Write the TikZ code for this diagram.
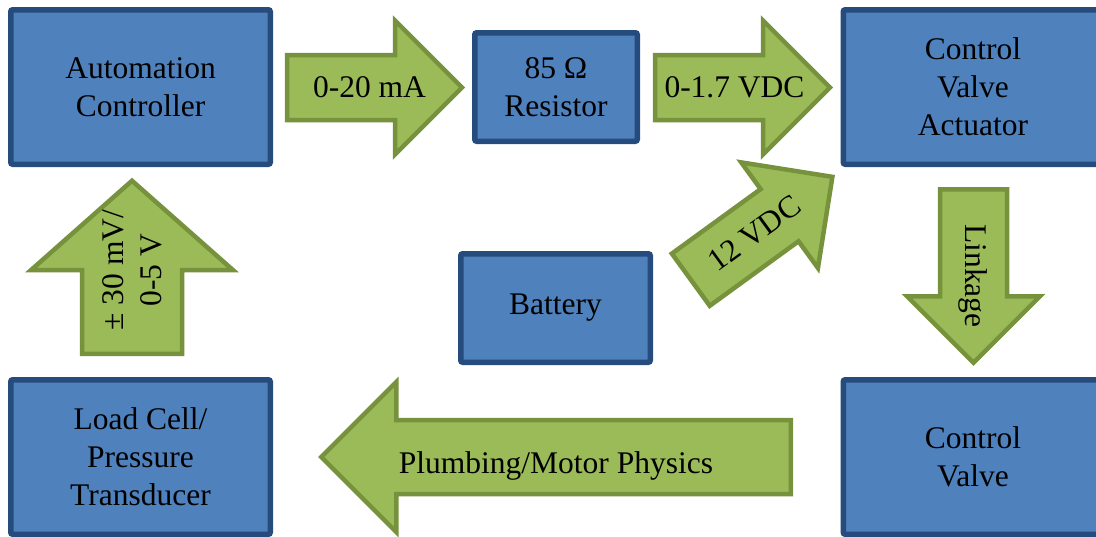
\documentclass[tikz,border=0pt]{standalone}
\usepackage{fontspec}
\setmainfont{Liberation Serif}
\usetikzlibrary{shapes.arrows,calc}
\definecolor{boxfill}{HTML}{4F81BD}
\definecolor{boxline}{HTML}{264B7D}
\definecolor{arrowfill}{HTML}{9BBB59}
\definecolor{arrowline}{HTML}{76923C}
\tikzset{
  block/.style={draw=boxline, fill=boxfill, line width=5.5pt, rounded corners=2pt,
    minimum width=259.5pt, minimum height=154.5pt, align=center, inner sep=0pt,
    font=\fontsize{31.5}{38}\selectfont},
  fatarrow/.style={single arrow, draw=arrowline, fill=arrowfill, line width=4.5pt,
    inner xsep=0pt, outer sep=0pt, minimum width=0pt, anchor=tail},
  lbl/.style={font=\fontsize{31.5}{38}\selectfont, align=center, inner sep=0pt}
}
\begin{document}
\begin{tikzpicture}[x=1pt,y=-1pt]
  \useasboundingbox (0,0) rectangle (1096,536);
  % Blocks.
  \node[block] (ctrl) at (140.5,87) {Automation\\Controller};
  \node[block, minimum width=162.5pt, minimum height=108.5pt] (res) at (556,87) {85 Ω\\Resistor};
  \node[block] (act) at (973,87) {Control\\Valve\\Actuator};
  \node[block, minimum width=189.5pt, minimum height=108.5pt] (batt) at (555.5,308) {Battery};
  \node[block] (cell) at (140.5,457) {Load Cell/\\Pressure\\Transducer};
  \node[block] (valve) at (973,457) {Control\\Valve};
  % Signal arrows.
  \node[fatarrow, inner ysep=30.25pt, single arrow head extend=34.5pt, minimum height=175pt] (sigMA) at (287,87.5) {};
  \node[lbl, xshift=-5pt] (txtMA) at ($(sigMA.tail)!.5!(sigMA.tip)$) {0-20 mA};
  \node[fatarrow, inner ysep=30.25pt, single arrow head extend=34.5pt, minimum height=175pt] (sigVDC) at (655,87.5) {};
  \node[lbl, xshift=-8pt] (txtVDC) at ($(sigVDC.tail)!.5!(sigVDC.tip)$) {0-1.7 VDC};
  \node[fatarrow, rotate=36, inner ysep=30pt, single arrow head extend=33pt, minimum height=175pt] (sigBatt) at (690.8,279.7) {};
  \node[lbl, rotate=36] (txtBatt) at ($(sigBatt.tail)!.45!(sigBatt.tip)$) {12 VDC};
  \node[fatarrow, rotate=-90, inner ysep=31.25pt, single arrow head extend=33pt, minimum height=173.5pt] (sigLink) at (973.5,189.25) {};
  \node[lbl, rotate=-90] (txtLink) at ($(sigLink.tail)!.5!(sigLink.tip)$) {Linkage};
  \node[fatarrow, rotate=180, inner ysep=34.75pt, single arrow head extend=38pt, minimum height=469.5pt] (sigPhys) at (790.75,457) {};
  \node[lbl, yshift=-9pt] (txtPhys) at ($(sigPhys.tail)!.5!(sigPhys.tip)$) {Plumbing/Motor Physics};
  \node[fatarrow, rotate=90, inner ysep=47.75pt, single arrow head extend=51pt, single arrow tip angle=97, minimum height=173pt] (sigCell) at (132,353.75) {};
  \node[lbl, rotate=90, xshift=-3pt] (txtCell) at ($(sigCell.tail)!.5!(sigCell.tip)$) {± 30 mV/\\0-5 V};
\end{tikzpicture}
\end{document}
